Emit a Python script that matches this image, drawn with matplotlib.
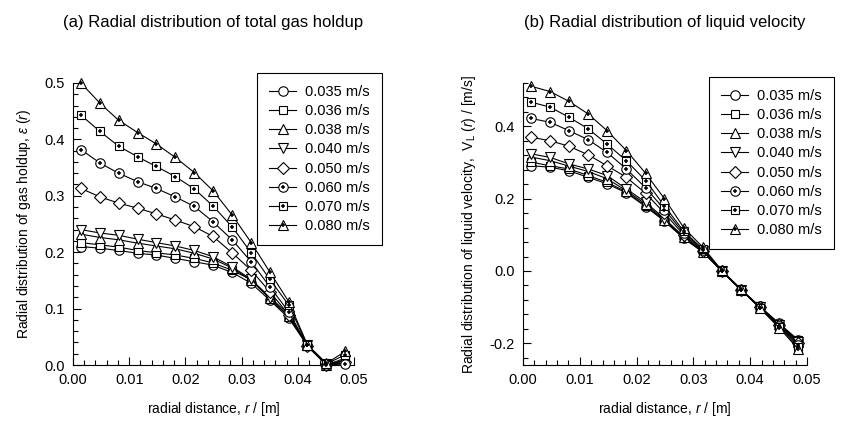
import matplotlib
matplotlib.use("Agg")
import matplotlib.pyplot as plt
from matplotlib.lines import Line2D
from matplotlib.legend_handler import HandlerTuple
from matplotlib.ticker import MultipleLocator, FormatStrFormatter

plt.rcParams.update({
    "font.family": "sans-serif",
    "font.sans-serif": ["Liberation Sans", "DejaVu Sans"],
    "mathtext.fontset": "custom",
    "mathtext.rm": "Liberation Sans",
    "mathtext.it": "Liberation Sans:italic",
    "axes.unicode_minus": False,
    "axes.linewidth": 0.8,
})

# radial positions [m]
R = [0.0014, 0.0048, 0.0081, 0.0115, 0.0148, 0.0182, 0.0216, 0.0249,
     0.0283, 0.0317, 0.0350, 0.0384, 0.0417, 0.0451, 0.0484]

LABELS = ["0.035 m/s", "0.036 m/s", "0.038 m/s", "0.040 m/s",
          "0.050 m/s", "0.060 m/s", "0.070 m/s", "0.080 m/s"]

# (a) gas holdup
EPS_035 = [0.210, 0.207, 0.203, 0.198, 0.195, 0.189, 0.183, 0.177, 0.164, 0.145, 0.115, 0.083, 0.034, 0.000, 0.004]
EPS_036 = [0.217, 0.213, 0.209, 0.203, 0.199, 0.195, 0.189, 0.181, 0.168, 0.151, 0.121, 0.089, 0.035, 0.000, 0.008]
EPS_038 = [0.232, 0.226, 0.222, 0.216, 0.211, 0.206, 0.198, 0.188, 0.172, 0.150, 0.118, 0.086, 0.036, 0.000, 0.012]
EPS_040 = [0.240, 0.234, 0.230, 0.223, 0.217, 0.211, 0.203, 0.192, 0.174, 0.152, 0.118, 0.086, 0.035, 0.002, 0.008]
EPS_050 = [0.313, 0.298, 0.287, 0.278, 0.268, 0.257, 0.245, 0.228, 0.199, 0.168, 0.130, 0.089, 0.033, 0.000, 0.005]
EPS_060 = [0.382, 0.358, 0.340, 0.325, 0.313, 0.298, 0.281, 0.254, 0.222, 0.183, 0.139, 0.094, 0.035, 0.000, 0.002]
EPS_070 = [0.443, 0.414, 0.388, 0.369, 0.352, 0.334, 0.312, 0.282, 0.245, 0.199, 0.152, 0.106, 0.035, 0.002, 0.018]
EPS_080 = [0.500, 0.464, 0.434, 0.412, 0.392, 0.368, 0.341, 0.309, 0.266, 0.217, 0.165, 0.112, 0.036, 0.003, 0.024]

# (b) liquid velocity [m/s]
VL_035 = [0.291, 0.287, 0.277, 0.259, 0.241, 0.216, 0.178, 0.138, 0.090, 0.052, 0.000, -0.052, -0.098, -0.145, -0.190]
VL_036 = [0.301, 0.291, 0.282, 0.264, 0.245, 0.219, 0.180, 0.140, 0.092, 0.052, 0.000, -0.052, -0.098, -0.146, -0.192]
VL_038 = [0.315, 0.305, 0.290, 0.275, 0.255, 0.222, 0.185, 0.142, 0.093, 0.053, 0.000, -0.053, -0.100, -0.147, -0.195]
VL_040 = [0.324, 0.314, 0.296, 0.282, 0.264, 0.227, 0.190, 0.145, 0.095, 0.054, 0.000, -0.053, -0.100, -0.148, -0.197]
VL_050 = [0.370, 0.360, 0.345, 0.321, 0.291, 0.259, 0.215, 0.160, 0.100, 0.056, 0.000, -0.052, -0.100, -0.150, -0.200]
VL_060 = [0.422, 0.411, 0.388, 0.363, 0.328, 0.282, 0.230, 0.170, 0.105, 0.058, 0.000, -0.052, -0.101, -0.152, -0.205]
VL_070 = [0.467, 0.453, 0.425, 0.393, 0.351, 0.305, 0.250, 0.180, 0.110, 0.060, 0.000, -0.052, -0.102, -0.155, -0.210]
VL_080 = [0.511, 0.496, 0.469, 0.434, 0.388, 0.333, 0.270, 0.200, 0.120, 0.065, 0.002, -0.050, -0.103, -0.157, -0.215]

EPS = [EPS_035, EPS_036, EPS_038, EPS_040, EPS_050, EPS_060, EPS_070, EPS_080]
VL = [VL_035, VL_036, VL_038, VL_040, VL_050, VL_060, VL_070, VL_080]

# base marker, and whether a small plus is drawn inside
STYLES = [("o", False), ("s", False), ("^", False), ("v", False),
          ("D", False), ("o", True), ("s", True), ("^", True)]
MS = {"o": 6.8, "s": 6.4, "^": 7.2, "v": 7.2, "D": 5.8}


def draw_panel(ax, series):
    handles = []
    for ys, (mk, plus) in zip(series, STYLES):
        ax.plot(R, ys, color="black", lw=0.8, marker=mk, ms=MS[mk],
                mfc="white", mec="black", mew=0.8, clip_on=False, zorder=3)
        h = [Line2D([], [], color="black", lw=0.8, marker=mk, ms=MS[mk],
                    mfc="white", mec="black", mew=0.8)]
        if plus:
            ax.plot(R, ys, ls="none", marker="+", ms=3.0, mew=1.1,
                    color="black", clip_on=False, zorder=4)
            h.append(Line2D([], [], ls="none", marker="+", ms=3.0, mew=1.1,
                            color="black"))
        handles.append(tuple(h))
    for s in ["top", "right"]:
        ax.spines[s].set_visible(False)
    ax.set_xlim(0, 0.05)
    ax.xaxis.set_major_locator(MultipleLocator(0.01))
    ax.xaxis.set_minor_locator(MultipleLocator(0.002))
    ax.xaxis.set_major_formatter(FormatStrFormatter("%.2f"))
    ax.tick_params(which="both", direction="in", labelsize=10.5, width=0.8)
    ax.tick_params(which="major", length=6, pad=6)
    ax.tick_params(which="minor", length=3.5)
    ax.set_xlabel("radial distance, $r$ / [m]", fontsize=10, labelpad=9)
    return handles


fig = plt.figure(figsize=(8.49, 4.21), dpi=100)
ax1 = fig.add_axes([0.086, 0.133, 0.331, 0.670])
ax2 = fig.add_axes([0.616, 0.133, 0.3345, 0.670])

h1 = draw_panel(ax1, EPS)
ax1.set_ylim(0, 0.5)
ax1.yaxis.set_major_locator(MultipleLocator(0.1))
ax1.yaxis.set_minor_locator(MultipleLocator(0.02))
ax1.yaxis.set_major_formatter(FormatStrFormatter("%.1f"))
ax1.set_ylabel(r"Radial distribution of gas holdup, $\varepsilon$ ($r$)",
               fontsize=10, labelpad=8)
ax1.set_title("(a) Radial distribution of total gas holdup", fontsize=12,
              pad=40)

h2 = draw_panel(ax2, VL)
ax2.set_ylim(-0.26, 0.52)
ax2.yaxis.set_major_locator(MultipleLocator(0.2))
ax2.yaxis.set_minor_locator(MultipleLocator(0.04))
ax2.yaxis.set_major_formatter(FormatStrFormatter("%.1f"))
ax2.set_ylabel(r"Radial distribution of liquid velocity,  V$_\mathrm{L}$ ($r$) / [m/s]",
               fontsize=10, labelpad=8)
ax2.set_title("(b) Radial distribution of liquid velocity", fontsize=12,
              pad=40)

for ax, hs, anchor in [(ax1, h1, (0.655, 1.035)), (ax2, h2, (0.655, 1.021))]:
    leg = ax.legend(hs, LABELS, loc="upper left", bbox_to_anchor=anchor,
                    handler_map={tuple: HandlerTuple(ndivide=1)},
                    fontsize=10.5, frameon=True, fancybox=False,
                    edgecolor="black", framealpha=1, borderpad=0.8,
                    handlelength=1.9, handletextpad=0.6, labelspacing=0.36,
                    borderaxespad=0)
    leg.get_frame().set_linewidth(0.8)
    leg.set_zorder(5)

fig.savefig("out.png", dpi=100)
